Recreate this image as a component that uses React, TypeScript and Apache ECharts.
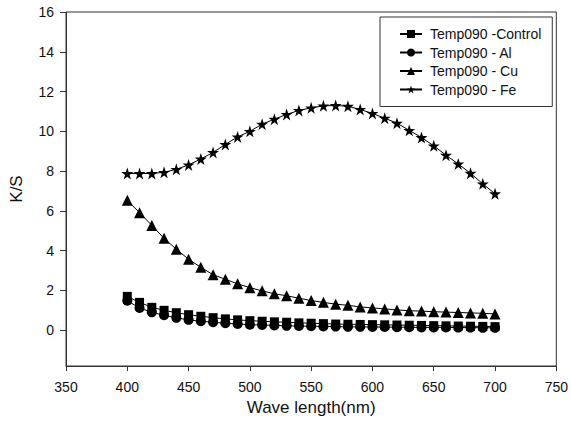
import React, { useEffect, useRef } from "react";
import * as echarts from "echarts";

const wavelengths = [400, 410, 420, 430, 440, 450, 460, 470, 480, 490, 500, 510, 520, 530, 540, 550, 560, 570, 580, 590, 600, 610, 620, 630, 640, 650, 660, 670, 680, 690, 700];

const controlValues = [1.70, 1.40, 1.15, 1.00, 0.88, 0.78, 0.70, 0.63, 0.57, 0.52, 0.48, 0.45, 0.42, 0.40, 0.37, 0.35, 0.33, 0.31, 0.30, 0.29, 0.28, 0.27, 0.26, 0.25, 0.24, 0.23, 0.22, 0.21, 0.20, 0.19, 0.18];
const alValues = [1.48, 1.12, 0.90, 0.75, 0.62, 0.52, 0.45, 0.40, 0.35, 0.31, 0.28, 0.26, 0.24, 0.22, 0.21, 0.20, 0.19, 0.18, 0.17, 0.17, 0.16, 0.16, 0.15, 0.15, 0.14, 0.14, 0.14, 0.13, 0.13, 0.12, 0.12];
const cuValues = [6.53, 5.91, 5.27, 4.62, 4.07, 3.57, 3.16, 2.79, 2.56, 2.33, 2.14, 1.98, 1.83, 1.73, 1.61, 1.49, 1.40, 1.31, 1.25, 1.17, 1.12, 1.07, 1.02, 0.98, 0.96, 0.93, 0.91, 0.89, 0.87, 0.85, 0.82];
const feValues = [7.88, 7.88, 7.88, 7.94, 8.09, 8.31, 8.61, 8.94, 9.34, 9.72, 10.00, 10.36, 10.61, 10.85, 11.05, 11.18, 11.28, 11.30, 11.26, 11.10, 10.90, 10.66, 10.41, 10.05, 9.69, 9.27, 8.80, 8.36, 7.89, 7.36, 6.86];

const seriesNames = ["Temp090 -Control", "Temp090 - Al", "Temp090 - Cu", "Temp090 - Fe"];
const yTickValues = [0, 2, 4, 6, 8, 10, 12, 14, 16];

const STAR = "path://M100,0 L122.45,69.1 L195.1,69.1 L136.3,111.8 L158.8,180.9 L100,138.2 L41.2,180.9 L63.7,111.8 L4.9,69.1 L77.55,69.1 Z";

export default function App() {
  const ref = useRef<HTMLDivElement>(null);
  useEffect(() => {
    if (!ref.current) return;
    const chart = echarts.init(ref.current, null, { renderer: "svg" });
    const font = "Liberation Sans, Arial, sans-serif";
    const mk = (vals: number[]) => wavelengths.map((w, i) => [w, vals[i]]);
    const symbols = ["rect", "circle", "triangle", STAR];
    const sizes = [9, 10, 11, 12];
    const allVals = [controlValues, alValues, cuValues, feValues];
    chart.setOption({
      animation: false,
      backgroundColor: "#fff",
      textStyle: { fontFamily: font },
      grid: { left: 65, right: 11, top: 12, bottom: 53, show: true, borderColor: "#333", borderWidth: 1 },
      legend: {
        orient: "vertical",
        left: 380,
        top: 17,
        padding: [10, 11, 10, 19],
        itemWidth: 22,
        itemHeight: 10,
        itemGap: 4.5,
        borderColor: "#333",
        borderWidth: 1,
        textStyle: { fontSize: 14, color: "#111", fontFamily: font, padding: [0, 0, 0, 3] },
        data: seriesNames,
      },
      xAxis: {
        type: "value",
        min: 350,
        max: 750,
        interval: 50,
        name: "Wave length(nm)",
        nameLocation: "middle",
        nameGap: 33,
        nameTextStyle: { fontSize: 17, color: "#111", fontFamily: font },
        splitLine: { show: false },
        axisLine: { onZero: false, lineStyle: { color: "#333", width: 1 } },
        axisTick: { length: 5, lineStyle: { color: "#333" } },
        axisLabel: { fontSize: 14, color: "#111", margin: 14, fontFamily: font },
      },
      yAxis: {
        type: "value",
        min: -1.8,
        max: 16,
        name: "K/S",
        nameLocation: "middle",
        nameGap: 41,
        nameTextStyle: { fontSize: 17, color: "#111", fontFamily: font },
        splitLine: { show: false },
        axisLine: { show: true, onZero: false, lineStyle: { color: "#333", width: 1 } },
        axisTick: { show: true, length: 6, customValues: yTickValues, lineStyle: { color: "#333" } },
        axisLabel: { fontSize: 14, color: "#111", margin: 12, customValues: yTickValues, fontFamily: font },
      },
      series: seriesNames.map((name, i) => ({
        name,
        type: "line",
        data: mk(allVals[i]),
        symbol: symbols[i],
        symbolSize: sizes[i],
        showAllSymbol: true,
        color: "#000",
        lineStyle: { color: "#000", width: 1 },
        itemStyle: { color: "#000" },
      })),
    });
    return () => chart.dispose();
  }, []);
  return <div ref={ref} style={{ position: "fixed", left: 0, top: 0, width: 571, height: 421 }} />;
}
